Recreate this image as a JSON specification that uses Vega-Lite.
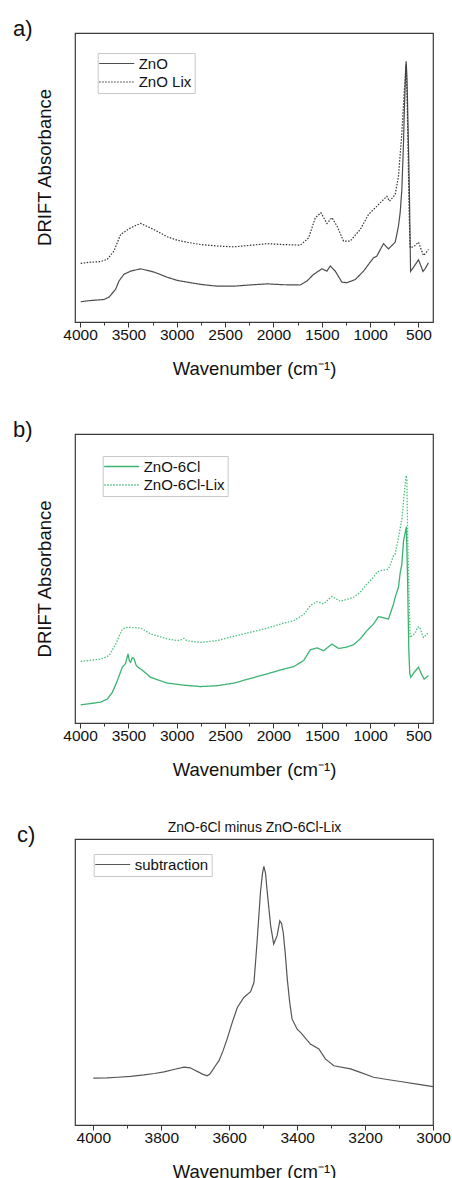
{
  "$schema": "https://vega.github.io/schema/vega-lite/v6.json",
  "padding": {"left": 12, "top": 17, "right": 2, "bottom": 0},
  "background": "white",
  "spacing": 39,
  "resolve": {"scale": {"color": "independent", "strokeDash": "independent"}, "legend": {"color": "independent", "strokeDash": "independent"}},
  "config": {
    "font": "Liberation Sans",
    "view": {"stroke": "#3a3a3a", "strokeWidth": 1.2},
    "axis": {"grid": false, "labelColor": "#111111", "titleColor": "#111111", "titleFontWeight": "normal", "labelFont": "Liberation Sans", "titleFont": "Liberation Sans"},
    "title": {"fontWeight": "normal", "color": "#111111", "font": "Liberation Sans"},
    "legend": {"labelFont": "Liberation Sans", "title": null, "orient": "none", "strokeColor": "#c8c8c8", "fillColor": "white", "padding": 3, "rowPadding": 2.5, "labelFontSize": 15, "labelColor": "#111111", "symbolType": "M-5,0H5", "symbolSize": 49, "symbolStrokeWidth": 1.2, "symbolFillColor": "transparent", "symbolOffset": 8.5, "labelOffset": 14.5}
  },
  "datasets": {
    "a": [
      {"wn": 3993, "abs": 7.0, "series": "ZnO"}, {"wn": 3900, "abs": 7.4, "series": "ZnO"}, {"wn": 3752, "abs": 7.8, "series": "ZnO"}, {"wn": 3701, "abs": 8.6, "series": "ZnO"}, {"wn": 3632, "abs": 11.3, "series": "ZnO"}, {"wn": 3597, "abs": 14.2, "series": "ZnO"}, {"wn": 3546, "abs": 16.5, "series": "ZnO"}, {"wn": 3477, "abs": 17.6, "series": "ZnO"}, {"wn": 3374, "abs": 18.4, "series": "ZnO"}, {"wn": 3236, "abs": 17.3, "series": "ZnO"}, {"wn": 3100, "abs": 15.5, "series": "ZnO"}, {"wn": 2995, "abs": 14.4, "series": "ZnO"}, {"wn": 2892, "abs": 13.8, "series": "ZnO"}, {"wn": 2750, "abs": 13.0, "series": "ZnO"}, {"wn": 2582, "abs": 12.4, "series": "ZnO"}, {"wn": 2410, "abs": 12.4, "series": "ZnO"}, {"wn": 2250, "abs": 12.8, "series": "ZnO"}, {"wn": 2066, "abs": 13.2, "series": "ZnO"}, {"wn": 1900, "abs": 12.9, "series": "ZnO"}, {"wn": 1722, "abs": 12.8, "series": "ZnO"}, {"wn": 1653, "abs": 14.2, "series": "ZnO"}, {"wn": 1584, "abs": 16.5, "series": "ZnO"}, {"wn": 1498, "abs": 18.4, "series": "ZnO"}, {"wn": 1447, "abs": 17.6, "series": "ZnO"}, {"wn": 1412, "abs": 19.4, "series": "ZnO"}, {"wn": 1361, "abs": 17.6, "series": "ZnO"}, {"wn": 1292, "abs": 13.8, "series": "ZnO"}, {"wn": 1240, "abs": 13.6, "series": "ZnO"}, {"wn": 1154, "abs": 14.7, "series": "ZnO"}, {"wn": 1068, "abs": 17.6, "series": "ZnO"}, {"wn": 1000, "abs": 20.7, "series": "ZnO"}, {"wn": 965, "abs": 22.2, "series": "ZnO"}, {"wn": 931, "abs": 22.8, "series": "ZnO"}, {"wn": 862, "abs": 27.1, "series": "ZnO"}, {"wn": 810, "abs": 25.3, "series": "ZnO"}, {"wn": 741, "abs": 27.6, "series": "ZnO"}, {"wn": 707, "abs": 33.2, "series": "ZnO"}, {"wn": 689, "abs": 38.0, "series": "ZnO"}, {"wn": 672, "abs": 45.9, "series": "ZnO"}, {"wn": 655, "abs": 62.0, "series": "ZnO"}, {"wn": 648, "abs": 71.2, "series": "ZnO"}, {"wn": 635, "abs": 85.0, "series": "ZnO"}, {"wn": 628, "abs": 90.2, "series": "ZnO"}, {"wn": 620, "abs": 85.0, "series": "ZnO"}, {"wn": 614, "abs": 77.0, "series": "ZnO"}, {"wn": 600, "abs": 55.0, "series": "ZnO"}, {"wn": 593, "abs": 42.4, "series": "ZnO"}, {"wn": 582, "abs": 17.5, "series": "ZnO"}, {"wn": 540, "abs": 19.5, "series": "ZnO"}, {"wn": 500, "abs": 21.5, "series": "ZnO"}, {"wn": 470, "abs": 19.0, "series": "ZnO"}, {"wn": 454, "abs": 17.5, "series": "ZnO"}, {"wn": 430, "abs": 18.5, "series": "ZnO"}, {"wn": 397, "abs": 20.5, "series": "ZnO"},
      {"wn": 3993, "abs": 20.3, "series": "ZnO Lix"}, {"wn": 3890, "abs": 20.7, "series": "ZnO Lix"}, {"wn": 3787, "abs": 20.9, "series": "ZnO Lix"}, {"wn": 3718, "abs": 21.7, "series": "ZnO Lix"}, {"wn": 3650, "abs": 24.5, "series": "ZnO Lix"}, {"wn": 3580, "abs": 30.3, "series": "ZnO Lix"}, {"wn": 3477, "abs": 32.6, "series": "ZnO Lix"}, {"wn": 3374, "abs": 34.1, "series": "ZnO Lix"}, {"wn": 3236, "abs": 32.0, "series": "ZnO Lix"}, {"wn": 3100, "abs": 29.5, "series": "ZnO Lix"}, {"wn": 2995, "abs": 28.3, "series": "ZnO Lix"}, {"wn": 2892, "abs": 27.6, "series": "ZnO Lix"}, {"wn": 2750, "abs": 26.8, "series": "ZnO Lix"}, {"wn": 2582, "abs": 26.3, "series": "ZnO Lix"}, {"wn": 2410, "abs": 26.0, "series": "ZnO Lix"}, {"wn": 2250, "abs": 26.5, "series": "ZnO Lix"}, {"wn": 2066, "abs": 27.1, "series": "ZnO Lix"}, {"wn": 1900, "abs": 26.8, "series": "ZnO Lix"}, {"wn": 1722, "abs": 26.6, "series": "ZnO Lix"}, {"wn": 1636, "abs": 29.1, "series": "ZnO Lix"}, {"wn": 1567, "abs": 36.1, "series": "ZnO Lix"}, {"wn": 1509, "abs": 37.8, "series": "ZnO Lix"}, {"wn": 1447, "abs": 34.1, "series": "ZnO Lix"}, {"wn": 1395, "abs": 36.1, "series": "ZnO Lix"}, {"wn": 1343, "abs": 33.2, "series": "ZnO Lix"}, {"wn": 1275, "abs": 28.0, "series": "ZnO Lix"}, {"wn": 1206, "abs": 28.0, "series": "ZnO Lix"}, {"wn": 1103, "abs": 32.0, "series": "ZnO Lix"}, {"wn": 1017, "abs": 37.2, "series": "ZnO Lix"}, {"wn": 948, "abs": 39.5, "series": "ZnO Lix"}, {"wn": 879, "abs": 41.8, "series": "ZnO Lix"}, {"wn": 827, "abs": 43.5, "series": "ZnO Lix"}, {"wn": 800, "abs": 41.8, "series": "ZnO Lix"}, {"wn": 741, "abs": 44.1, "series": "ZnO Lix"}, {"wn": 707, "abs": 50.5, "series": "ZnO Lix"}, {"wn": 672, "abs": 65.4, "series": "ZnO Lix"}, {"wn": 648, "abs": 79.3, "series": "ZnO Lix"}, {"wn": 628, "abs": 89.1, "series": "ZnO Lix"}, {"wn": 620, "abs": 80.0, "series": "ZnO Lix"}, {"wn": 611, "abs": 65.4, "series": "ZnO Lix"}, {"wn": 598, "abs": 40.0, "series": "ZnO Lix"}, {"wn": 587, "abs": 25.7, "series": "ZnO Lix"}, {"wn": 560, "abs": 26.0, "series": "ZnO Lix"}, {"wn": 535, "abs": 26.5, "series": "ZnO Lix"}, {"wn": 500, "abs": 27.6, "series": "ZnO Lix"}, {"wn": 449, "abs": 23.0, "series": "ZnO Lix"}, {"wn": 420, "abs": 24.0, "series": "ZnO Lix"}, {"wn": 397, "abs": 25.1, "series": "ZnO Lix"}
    ],
    "b": [
      {"wn": 3993, "abs": 6.3, "series": "ZnO-6Cl"}, {"wn": 3900, "abs": 6.7, "series": "ZnO-6Cl"}, {"wn": 3787, "abs": 7.2, "series": "ZnO-6Cl"}, {"wn": 3718, "abs": 8.3, "series": "ZnO-6Cl"}, {"wn": 3666, "abs": 10.6, "series": "ZnO-6Cl"}, {"wn": 3615, "abs": 14.6, "series": "ZnO-6Cl"}, {"wn": 3563, "abs": 19.3, "series": "ZnO-6Cl"}, {"wn": 3529, "abs": 20.6, "series": "ZnO-6Cl"}, {"wn": 3504, "abs": 23.9, "series": "ZnO-6Cl"}, {"wn": 3490, "abs": 21.5, "series": "ZnO-6Cl"}, {"wn": 3477, "abs": 21.0, "series": "ZnO-6Cl"}, {"wn": 3460, "abs": 22.6, "series": "ZnO-6Cl"}, {"wn": 3443, "abs": 22.4, "series": "ZnO-6Cl"}, {"wn": 3420, "abs": 20.0, "series": "ZnO-6Cl"}, {"wn": 3408, "abs": 19.5, "series": "ZnO-6Cl"}, {"wn": 3357, "abs": 18.3, "series": "ZnO-6Cl"}, {"wn": 3270, "abs": 15.8, "series": "ZnO-6Cl"}, {"wn": 3098, "abs": 13.8, "series": "ZnO-6Cl"}, {"wn": 2926, "abs": 13.1, "series": "ZnO-6Cl"}, {"wn": 2754, "abs": 12.6, "series": "ZnO-6Cl"}, {"wn": 2582, "abs": 12.9, "series": "ZnO-6Cl"}, {"wn": 2410, "abs": 13.8, "series": "ZnO-6Cl"}, {"wn": 2238, "abs": 15.4, "series": "ZnO-6Cl"}, {"wn": 2066, "abs": 17.0, "series": "ZnO-6Cl"}, {"wn": 1900, "abs": 18.6, "series": "ZnO-6Cl"}, {"wn": 1791, "abs": 19.5, "series": "ZnO-6Cl"}, {"wn": 1688, "abs": 21.6, "series": "ZnO-6Cl"}, {"wn": 1619, "abs": 25.3, "series": "ZnO-6Cl"}, {"wn": 1550, "abs": 26.0, "series": "ZnO-6Cl"}, {"wn": 1481, "abs": 25.0, "series": "ZnO-6Cl"}, {"wn": 1395, "abs": 27.3, "series": "ZnO-6Cl"}, {"wn": 1326, "abs": 25.8, "series": "ZnO-6Cl"}, {"wn": 1250, "abs": 26.2, "series": "ZnO-6Cl"}, {"wn": 1171, "abs": 27.1, "series": "ZnO-6Cl"}, {"wn": 1103, "abs": 29.1, "series": "ZnO-6Cl"}, {"wn": 1034, "abs": 31.9, "series": "ZnO-6Cl"}, {"wn": 965, "abs": 34.3, "series": "ZnO-6Cl"}, {"wn": 914, "abs": 36.8, "series": "ZnO-6Cl"}, {"wn": 862, "abs": 36.4, "series": "ZnO-6Cl"}, {"wn": 810, "abs": 36.0, "series": "ZnO-6Cl"}, {"wn": 758, "abs": 41.2, "series": "ZnO-6Cl"}, {"wn": 741, "abs": 43.5, "series": "ZnO-6Cl"}, {"wn": 707, "abs": 47.0, "series": "ZnO-6Cl"}, {"wn": 689, "abs": 52.0, "series": "ZnO-6Cl"}, {"wn": 672, "abs": 55.0, "series": "ZnO-6Cl"}, {"wn": 655, "abs": 63.0, "series": "ZnO-6Cl"}, {"wn": 625, "abs": 67.9, "series": "ZnO-6Cl"}, {"wn": 614, "abs": 51.6, "series": "ZnO-6Cl"}, {"wn": 600, "abs": 25.0, "series": "ZnO-6Cl"}, {"wn": 590, "abs": 17.0, "series": "ZnO-6Cl"}, {"wn": 580, "abs": 15.8, "series": "ZnO-6Cl"}, {"wn": 545, "abs": 17.5, "series": "ZnO-6Cl"}, {"wn": 500, "abs": 19.3, "series": "ZnO-6Cl"}, {"wn": 470, "abs": 17.0, "series": "ZnO-6Cl"}, {"wn": 442, "abs": 15.2, "series": "ZnO-6Cl"}, {"wn": 420, "abs": 15.8, "series": "ZnO-6Cl"}, {"wn": 397, "abs": 16.4, "series": "ZnO-6Cl"},
      {"wn": 3993, "abs": 21.3, "series": "ZnO-6Cl-Lix"}, {"wn": 3890, "abs": 21.7, "series": "ZnO-6Cl-Lix"}, {"wn": 3787, "abs": 22.1, "series": "ZnO-6Cl-Lix"}, {"wn": 3701, "abs": 23.3, "series": "ZnO-6Cl-Lix"}, {"wn": 3632, "abs": 27.3, "series": "ZnO-6Cl-Lix"}, {"wn": 3563, "abs": 32.5, "series": "ZnO-6Cl-Lix"}, {"wn": 3512, "abs": 33.1, "series": "ZnO-6Cl-Lix"}, {"wn": 3450, "abs": 33.0, "series": "ZnO-6Cl-Lix"}, {"wn": 3374, "abs": 32.9, "series": "ZnO-6Cl-Lix"}, {"wn": 3270, "abs": 30.8, "series": "ZnO-6Cl-Lix"}, {"wn": 3098, "abs": 29.1, "series": "ZnO-6Cl-Lix"}, {"wn": 2995, "abs": 28.5, "series": "ZnO-6Cl-Lix"}, {"wn": 2940, "abs": 29.0, "series": "ZnO-6Cl-Lix"}, {"wn": 2926, "abs": 29.3, "series": "ZnO-6Cl-Lix"}, {"wn": 2900, "abs": 28.6, "series": "ZnO-6Cl-Lix"}, {"wn": 2858, "abs": 28.3, "series": "ZnO-6Cl-Lix"}, {"wn": 2754, "abs": 27.9, "series": "ZnO-6Cl-Lix"}, {"wn": 2582, "abs": 28.5, "series": "ZnO-6Cl-Lix"}, {"wn": 2410, "abs": 30.0, "series": "ZnO-6Cl-Lix"}, {"wn": 2238, "abs": 31.4, "series": "ZnO-6Cl-Lix"}, {"wn": 2066, "abs": 32.8, "series": "ZnO-6Cl-Lix"}, {"wn": 1900, "abs": 34.5, "series": "ZnO-6Cl-Lix"}, {"wn": 1791, "abs": 35.4, "series": "ZnO-6Cl-Lix"}, {"wn": 1688, "abs": 37.5, "series": "ZnO-6Cl-Lix"}, {"wn": 1619, "abs": 40.6, "series": "ZnO-6Cl-Lix"}, {"wn": 1550, "abs": 42.0, "series": "ZnO-6Cl-Lix"}, {"wn": 1481, "abs": 41.2, "series": "ZnO-6Cl-Lix"}, {"wn": 1395, "abs": 43.8, "series": "ZnO-6Cl-Lix"}, {"wn": 1309, "abs": 42.1, "series": "ZnO-6Cl-Lix"}, {"wn": 1240, "abs": 42.8, "series": "ZnO-6Cl-Lix"}, {"wn": 1171, "abs": 43.5, "series": "ZnO-6Cl-Lix"}, {"wn": 1103, "abs": 45.2, "series": "ZnO-6Cl-Lix"}, {"wn": 1034, "abs": 48.1, "series": "ZnO-6Cl-Lix"}, {"wn": 965, "abs": 50.4, "series": "ZnO-6Cl-Lix"}, {"wn": 930, "abs": 52.1, "series": "ZnO-6Cl-Lix"}, {"wn": 896, "abs": 52.7, "series": "ZnO-6Cl-Lix"}, {"wn": 827, "abs": 53.1, "series": "ZnO-6Cl-Lix"}, {"wn": 810, "abs": 53.3, "series": "ZnO-6Cl-Lix"}, {"wn": 758, "abs": 57.9, "series": "ZnO-6Cl-Lix"}, {"wn": 741, "abs": 58.5, "series": "ZnO-6Cl-Lix"}, {"wn": 707, "abs": 64.2, "series": "ZnO-6Cl-Lix"}, {"wn": 672, "abs": 70.5, "series": "ZnO-6Cl-Lix"}, {"wn": 648, "abs": 79.2, "series": "ZnO-6Cl-Lix"}, {"wn": 628, "abs": 85.6, "series": "ZnO-6Cl-Lix"}, {"wn": 620, "abs": 84.0, "series": "ZnO-6Cl-Lix"}, {"wn": 611, "abs": 63.1, "series": "ZnO-6Cl-Lix"}, {"wn": 595, "abs": 40.0, "series": "ZnO-6Cl-Lix"}, {"wn": 587, "abs": 29.6, "series": "ZnO-6Cl-Lix"}, {"wn": 560, "abs": 30.5, "series": "ZnO-6Cl-Lix"}, {"wn": 535, "abs": 31.0, "series": "ZnO-6Cl-Lix"}, {"wn": 510, "abs": 33.1, "series": "ZnO-6Cl-Lix"}, {"wn": 490, "abs": 33.3, "series": "ZnO-6Cl-Lix"}, {"wn": 449, "abs": 29.6, "series": "ZnO-6Cl-Lix"}, {"wn": 420, "abs": 30.5, "series": "ZnO-6Cl-Lix"}, {"wn": 397, "abs": 31.3, "series": "ZnO-6Cl-Lix"}
    ],
    "c": [
      {"wn": 4000, "abs": 16.4, "series": "subtraction"}, {"wn": 3960, "abs": 16.5, "series": "subtraction"}, {"wn": 3929, "abs": 16.7, "series": "subtraction"}, {"wn": 3890, "abs": 17.0, "series": "subtraction"}, {"wn": 3851, "abs": 17.5, "series": "subtraction"}, {"wn": 3820, "abs": 18.0, "series": "subtraction"}, {"wn": 3792, "abs": 18.6, "series": "subtraction"}, {"wn": 3760, "abs": 19.5, "series": "subtraction"}, {"wn": 3733, "abs": 20.2, "series": "subtraction"}, {"wn": 3715, "abs": 20.0, "series": "subtraction"}, {"wn": 3704, "abs": 19.3, "series": "subtraction"}, {"wn": 3690, "abs": 18.5, "series": "subtraction"}, {"wn": 3679, "abs": 17.8, "series": "subtraction"}, {"wn": 3665, "abs": 17.2, "series": "subtraction"}, {"wn": 3657, "abs": 17.8, "series": "subtraction"}, {"wn": 3650, "abs": 19.0, "series": "subtraction"}, {"wn": 3640, "abs": 20.8, "series": "subtraction"}, {"wn": 3630, "abs": 22.5, "series": "subtraction"}, {"wn": 3618, "abs": 26.0, "series": "subtraction"}, {"wn": 3606, "abs": 30.1, "series": "subtraction"}, {"wn": 3591, "abs": 35.9, "series": "subtraction"}, {"wn": 3576, "abs": 41.1, "series": "subtraction"}, {"wn": 3557, "abs": 44.6, "series": "subtraction"}, {"wn": 3537, "abs": 46.6, "series": "subtraction"}, {"wn": 3527, "abs": 49.9, "series": "subtraction"}, {"wn": 3518, "abs": 63.9, "series": "subtraction"}, {"wn": 3508, "abs": 81.4, "series": "subtraction"}, {"wn": 3502, "abs": 88.0, "series": "subtraction"}, {"wn": 3498, "abs": 90.4, "series": "subtraction"}, {"wn": 3493, "abs": 88.0, "series": "subtraction"}, {"wn": 3488, "abs": 81.4, "series": "subtraction"}, {"wn": 3478, "abs": 69.7, "series": "subtraction"}, {"wn": 3469, "abs": 63.3, "series": "subtraction"}, {"wn": 3459, "abs": 66.2, "series": "subtraction"}, {"wn": 3451, "abs": 71.4, "series": "subtraction"}, {"wn": 3446, "abs": 70.5, "series": "subtraction"}, {"wn": 3441, "abs": 67.4, "series": "subtraction"}, {"wn": 3435, "abs": 60.0, "series": "subtraction"}, {"wn": 3429, "abs": 51.0, "series": "subtraction"}, {"wn": 3422, "abs": 43.0, "series": "subtraction"}, {"wn": 3415, "abs": 37.1, "series": "subtraction"}, {"wn": 3400, "abs": 33.5, "series": "subtraction"}, {"wn": 3390, "abs": 32.4, "series": "subtraction"}, {"wn": 3361, "abs": 28.3, "series": "subtraction"}, {"wn": 3336, "abs": 26.6, "series": "subtraction"}, {"wn": 3317, "abs": 23.1, "series": "subtraction"}, {"wn": 3292, "abs": 20.7, "series": "subtraction"}, {"wn": 3243, "abs": 19.6, "series": "subtraction"}, {"wn": 3214, "abs": 18.4, "series": "subtraction"}, {"wn": 3175, "abs": 16.7, "series": "subtraction"}, {"wn": 3135, "abs": 15.9, "series": "subtraction"}, {"wn": 3096, "abs": 15.2, "series": "subtraction"}, {"wn": 3047, "abs": 14.3, "series": "subtraction"}, {"wn": 3000, "abs": 13.4, "series": "subtraction"}
    ]
  },
  "vconcat": [
    {
      "width": 358, "height": 289,
      "title": {"text": "a)", "anchor": "start", "frame": "group", "dx": -62, "fontSize": 22, "baseline": "alphabetic", "offset": -25},
      "data": {"name": "a"},
      "mark": {"type": "line", "strokeWidth": 1.2},
      "encoding": {
        "x": {"field": "wn", "type": "quantitative", "scale": {"domain": [350, 4052], "reverse": true, "nice": false, "zero": false},
          "axis": {"title": "Wavenumber (cm⁻¹)", "values": [4000, 3750, 3500, 3250, 3000, 2750, 2500, 2250, 2000, 1750, 1500, 1250, 1000, 750, 500], "format": "d", "labelExpr": "datum.value % 500 === 0 ? datum.label : ''", "tickSize": {"condition": {"test": "datum.value % 500 === 0", "value": 5}, "value": 3}, "domain": false, "labelFlush": false, "labelOverlap": false, "labelFontSize": 15.5, "labelPadding": 0, "titleFontSize": 18.5, "titlePadding": 17, "tickColor": "#333333"}},
        "y": {"field": "abs", "type": "quantitative", "scale": {"domain": [0, 100], "nice": false, "zero": false},
          "axis": {"title": "DRIFT Absorbance", "labels": false, "ticks": false, "domain": false, "titleFontSize": 18.5, "titlePadding": 21, "titleY": 134}},
        "color": {"field": "series", "type": "nominal", "scale": {"domain": ["ZnO", "ZnO Lix"], "range": ["#4d4d4d", "#333333"]},
          "legend": {"legendX": 22.7, "legendY": 20}},
        "strokeDash": {"field": "series", "type": "nominal", "scale": {"domain": ["ZnO", "ZnO Lix"], "range": [[1, 0], [1.5, 1.5]]},
          "legend": {"legendX": 22.7, "legendY": 20}}
      }
    },
    {
      "width": 358, "height": 289,
      "title": {"text": "b)", "anchor": "start", "frame": "group", "dx": -62, "fontSize": 22, "baseline": "alphabetic", "offset": -25},
      "data": {"name": "b"},
      "mark": {"type": "line", "strokeWidth": 1.3},
      "encoding": {
        "x": {"field": "wn", "type": "quantitative", "scale": {"domain": [350, 4052], "reverse": true, "nice": false, "zero": false},
          "axis": {"title": "Wavenumber (cm⁻¹)", "values": [4000, 3750, 3500, 3250, 3000, 2750, 2500, 2250, 2000, 1750, 1500, 1250, 1000, 750, 500], "format": "d", "labelExpr": "datum.value % 500 === 0 ? datum.label : ''", "tickSize": {"condition": {"test": "datum.value % 500 === 0", "value": 5}, "value": 3}, "domain": false, "labelFlush": false, "labelOverlap": false, "labelFontSize": 15.5, "labelPadding": 0, "titleFontSize": 18.5, "titlePadding": 17, "tickColor": "#333333"}},
        "y": {"field": "abs", "type": "quantitative", "scale": {"domain": [0, 100], "nice": false, "zero": false},
          "axis": {"title": "DRIFT Absorbance", "labels": false, "ticks": false, "domain": false, "titleFontSize": 18.5, "titlePadding": 21}},
        "color": {"field": "series", "type": "nominal", "scale": {"domain": ["ZnO-6Cl", "ZnO-6Cl-Lix"], "range": ["#3cb371", "#4cc081"]},
          "legend": {"legendX": 27.7, "legendY": 22, "symbolStrokeWidth": 1.3}},
        "strokeDash": {"field": "series", "type": "nominal", "scale": {"domain": ["ZnO-6Cl", "ZnO-6Cl-Lix"], "range": [[1, 0], [1.5, 1.5]]},
          "legend": {"legendX": 27.7, "legendY": 22, "symbolStrokeWidth": 1.3}}
      }
    },
    {
      "width": 358, "height": 286,
      "title": {"text": "c)", "anchor": "start", "frame": "group", "dx": -58, "dy": 44, "fontSize": 22, "baseline": "alphabetic", "offset": 0},
      "data": {"name": "c"},
      "layer": [
        {
          "mark": {"type": "line", "strokeWidth": 1.2},
          "encoding": {
            "x": {"field": "wn", "type": "quantitative", "scale": {"domain": [3000, 4054], "reverse": true, "nice": false, "zero": false},
              "axis": {"orient": "bottom", "title": "Wavenumber (cm⁻¹)", "values": [4000, 3900, 3800, 3700, 3600, 3500, 3400, 3300, 3200, 3100, 3000], "format": "d", "labelExpr": "datum.value % 200 === 0 ? datum.label : ''", "tickSize": {"condition": {"test": "datum.value % 200 === 0", "value": 5}, "value": 3}, "domain": false, "labelFlush": false, "labelOverlap": false, "labelFontSize": 15.5, "labelPadding": 0, "titleFontSize": 18.5, "titlePadding": 17, "tickColor": "#333333"}},
            "y": {"field": "abs", "type": "quantitative", "scale": {"domain": [0, 100], "nice": false, "zero": false},
              "axis": {"title": "DRIFT Absorbance", "labels": false, "ticks": false, "domain": false, "titleFontSize": 18.5, "titlePadding": 21}},
            "color": {"field": "series", "type": "nominal", "scale": {"domain": ["subtraction"], "range": ["#555555"]},
              "legend": {"legendX": 18.7, "legendY": 15}}
          }
        },
        {
          "mark": {"type": "line", "strokeOpacity": 0},
          "encoding": {
            "x": {"field": "wn", "type": "quantitative",
              "axis": {"orient": "top", "title": "ZnO-6Cl minus ZnO-6Cl-Lix", "labels": false, "ticks": false, "domain": false, "titleFontSize": 14, "titlePadding": 5}},
            "y": {"field": "abs", "type": "quantitative", "axis": null}
          }
        }
      ],
      "resolve": {"axis": {"x": "independent"}}
    }
  ]
}
